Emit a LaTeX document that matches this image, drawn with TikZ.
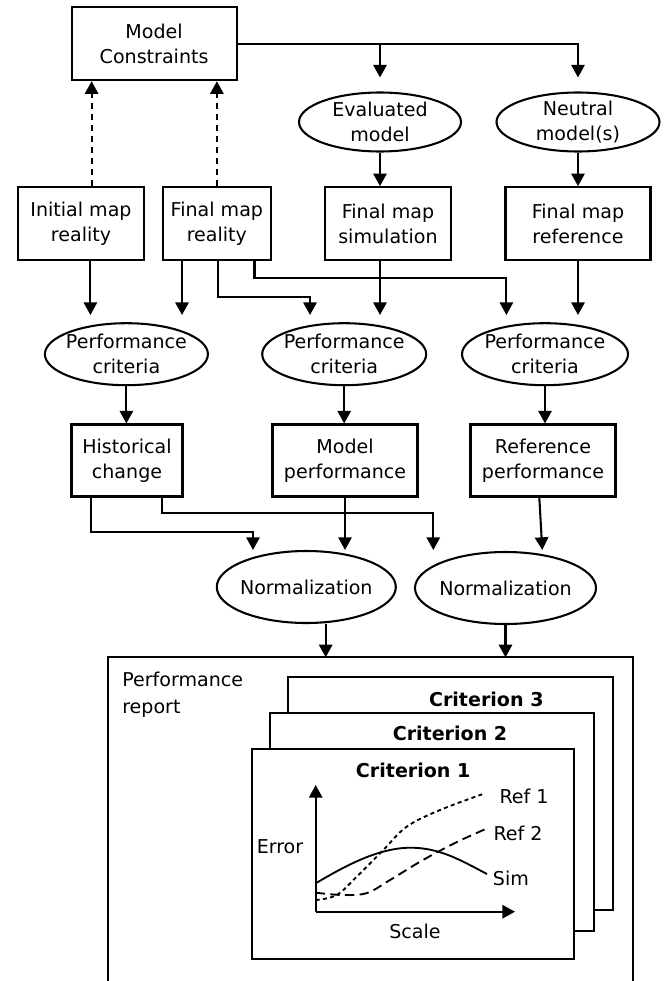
\documentclass[tikz,border=0pt]{standalone}
\usepackage{fontspec}
\setmainfont{DejaVu Sans}
\usetikzlibrary{arrows.meta,calc,shapes.geometric}
\begin{document}
\begin{tikzpicture}[x=0.75pt,y=-0.75pt,
  font=\fontsize{14.3}{18.5}\selectfont,
  lw/.style={line width=1.55pt},
  sz/.style 2 args={minimum width=#1*0.75pt,minimum height=#2*0.75pt},
  box/.style={draw,lw,rectangle,inner sep=1pt,align=center},
  ell/.style={draw,lw,ellipse,inner sep=0pt},
  arr/.style={lw,-{Triangle[width=10pt,length=9.5pt]}},
  dasharr/.style={arr,dash pattern=on 4.5pt off 3.75pt},
  crit/.style={draw,lw,fill=white,rectangle,inner sep=0pt,anchor=north west},
  bf/.style={font=\fontsize{14.3}{18.5}\selectfont\bfseries},
  curve/.style={line width=1.4pt}]
\useasboundingbox (0,0) rectangle (665,981);
\fill[white] (0,0) rectangle (665,981);

% --- nodes
\node[box,sz={165}{73}] (mc) at (154.1,43.7) {Model\\Constraints};
\node[ell,sz={162}{59},label={[align=center]center:Evaluated\\model}] (em) at (380,122) {};
\node[ell,sz={163}{59},label={[align=center]center:Neutral\\model(s)}] (nm) at (578,122) {};
\node[box,sz={126}{73}] (imr) at (81,223.7) {Initial map\\reality};
\node[box,sz={108}{73}] (fmr) at (216.9,223.7) {Final map\\reality};
\node[box,sz={126}{73}] (fms) at (388,223.7) {Final map\\simulation};
\node[box,sz={145}{73}] (fmf) at (578,223.7) {Final map\\reference};
\node[ell,sz={163}{62},label={[align=center]center:Performance\\criteria}] (pc1) at (126.4,354.2) {};
\node[ell,sz={164}{62},label={[align=center]center:Performance\\criteria}] (pc2) at (344.2,354.2) {};
\node[ell,sz={166}{62},label={[align=center]center:Performance\\criteria}] (pc3) at (545,354.2) {};
\node[box,sz={111}{72}] (hc) at (127,460.5) {Historical\\change};
\node[box,sz={145}{72}] (mp) at (345,460.5) {Model\\performance};
\node[box,sz={145}{72}] (rp) at (543,460.5) {Reference\\performance};
\node[ell,sz={179}{72},label={center:Normalization}] (n1) at (306.3,587) {};
\node[ell,sz={181}{72},label={center:Normalization}] (n2) at (505.5,588) {};

% --- helper levels
\coordinate (tipy) at (0,315);
\coordinate (tipz) at (0,550);
\coordinate (m1) at (0,296.7);
\coordinate (m2) at (0,278.3);
\coordinate (m3) at (0,532);
\coordinate (m4) at (0,513.3);

% --- top connectors
\draw[arr] (mc.east) -| ($(nm.north)+(0,-14)$);
\draw[arr] (mc.east -| em.north) -- ($(em.north)+(0,-14)$);
\coordinate (d1) at ($(imr.north)+(10.6,0)$);
\draw[dasharr] (d1) -- (d1 |- mc.south);
\draw[dasharr] (fmr.north) -- (fmr.north |- mc.south);
\draw[arr] (em.south) -- (em.south |- fms.north);
\draw[arr] (nm.south) -- (nm.south |- fmf.north);

% --- maps to performance criteria
\coordinate (a1) at ($(imr.south)+(9.4,0)$);
\draw[arr] (a1) -- (a1 |- tipy);
\coordinate (a2) at ($(fmr.south)+(-34.9,0)$);
\draw[arr] (a2) -- (a2 |- tipy);
\coordinate (a3) at ($(fmr.south)+(1.3,0)$);
\coordinate (b3) at ($(pc2.north)+(-34.2,0)$);
\draw[arr] (a3) |- (b3 |- m1) -- (b3 |- tipy);
\coordinate (a4) at ($(fmr.south)+(37.6,0)$);
\coordinate (b4) at ($(pc3.north)+(-38.6,0)$);
\draw[arr] (a4) |- (b4 |- m2) -- (b4 |- tipy);
\draw[arr] (em.south |- fms.south) -- (em.south |- tipy);
\draw[arr] (nm.south |- fmf.south) -- (nm.south |- tipy);

% --- criteria to results
\draw[arr] (pc1.south) -- (pc1.south |- hc.north);
\draw[arr] (pc2.south) -- (pc2.south |- mp.north);
\draw[arr] (pc3.south) -- (pc3.south |- rp.north);

% --- results to normalization
\coordinate (h1) at ($(hc.south)+(-36,0)$);
\coordinate (g1) at ($(n1.north)+(-53.3,0)$);
\draw[arr] (h1) |- (g1 |- m3) -- (g1 |- tipz);
\coordinate (h2) at ($(hc.south)+(35.3,0)$);
\coordinate (g2) at ($(n2.north)+(-72.2,0)$);
\draw[arr] (h2) |- (g2 |- m4) -- (g2 |- tipz);
\draw[arr] (mp.south) -- (mp.south |- tipz);
\coordinate (r1) at ($(rp.south)+(-3.7,0)$);
\coordinate (r2) at ($(n2.north)+(36.8,0)$);
\draw[arr] (r1) -- (r2 |- tipz);

% --- performance report
\coordinate (rtl) at (108.3,657.3);
\coordinate (rtr) at (633.3,657.3);
\coordinate (q1) at ($(n1.south)+(19.4,0)$);
\draw[arr] (q1) -- (q1 |- rtl);
\draw[arr] (n2.south) -- (n2.south |- rtl);
\draw[lw] (108.3,981) -- (rtl) -- (rtr) -- (633.3,981);
\node[anchor=north west,align=left,inner sep=0pt,font=\fontsize{14.3}{20}\selectfont] (pr) at (122,672.2) {Performance\\report};

\node[crit,sz={324.4}{233.3}] (c3) at (287.3,676) {};
\node[bf] (t3) at (486.3,699.3) {Criterion 3};
\node[crit,sz={324.3}{218}] (c2) at (269,712) {};
\node[bf] (t2) at (450,733.3) {Criterion 2};
\node[crit,sz={322}{210.6}] (c1) at (251.3,747.7) {};
\node[bf] (t1) at (413.2,770) {Criterion 1};

% --- chart
\coordinate (o) at (315.7,911.7);
\coordinate (ytop) at (315.7,785);
\coordinate (xend) at (515,911.7);
\draw[arr] (o) -- (ytop);
\draw[arr] (o) -- (xend);
\node (err) at (280,846.7) {Error};
\node (scl) at (415,931.7) {Scale};
\node[anchor=west,inner sep=0pt] (l1) at (499.3,796.7) {Ref 1};
\node[anchor=west,inner sep=0pt] (l2) at (493.3,833.3) {Ref 2};
\node[anchor=west,inner sep=0pt] (l3) at (492.7,878.3) {Sim};

\draw[curve] (315.7,883.3) .. controls (345,866) and (378,848) .. (410,847.7) .. controls (440,847.5) and (462,861) .. (487,874);
\draw[curve,dash pattern=on 3pt off 2.5pt] plot[smooth,tension=0.6] coordinates {(315.7,900) (336.7,895) (356.7,876.7) (383.3,850) (406.7,826.7) (440,810) (485,793.3)};
\draw[curve,dash pattern=on 7pt off 4pt] plot[smooth,tension=0.6] coordinates {(315.7,892.7) (343,895) (367,893) (390,880) (423,860) (457,842) (488,828)};
\end{tikzpicture}
\end{document}
